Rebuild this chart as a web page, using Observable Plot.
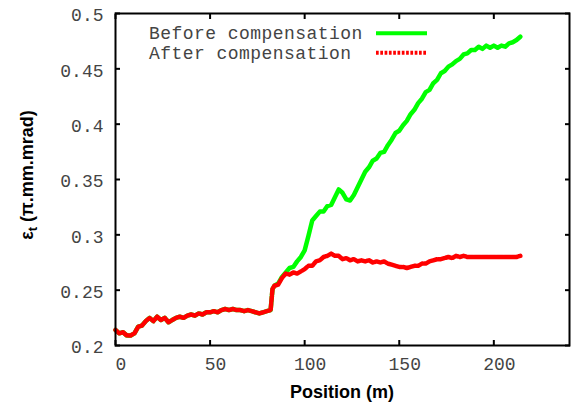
<!DOCTYPE html>
<html>
<head>
<meta charset="utf-8">
<script src="https://cdn.jsdelivr.net/npm/d3@7"></script>
<script src="https://cdn.jsdelivr.net/npm/@observablehq/plot@0.6"></script>
<style>
  html, body { margin: 0; padding: 0; background: #fff; }
  #chart svg { display: block; }
</style>
</head>
<body>
<div id="chart"></div>
<script>
// ---- Data ----
const positions = [
  0, 2, 4, 6, 8, 10, 12, 14, 16, 18, 20, 22, 24, 26, 28, 30, 32, 34, 36, 38,
  40, 42, 44, 46, 48, 50, 52, 54, 56, 58, 60, 62, 64, 66, 68, 70, 72, 74, 76, 78,
  80, 82, 83,
  84, 86, 88, 90, 92, 94, 96, 98, 100, 102, 104, 106, 108, 110, 112, 114, 116, 118,
  120, 122, 124, 126, 128, 130, 132, 134, 136, 138, 140, 142, 144, 146, 148, 150,
  152, 154, 156, 158, 160, 162, 164, 166, 168, 170, 172, 174, 176, 178, 180, 182,
  184, 186, 188, 190, 192, 194, 196, 198, 200, 202, 204, 206, 208, 210, 212, 214
];

// Shared part (0 .. 83 m): both curves coincide
const sharedEmittance = [
  0.214, 0.211, 0.212, 0.209, 0.209, 0.211, 0.217, 0.218, 0.222, 0.225,
  0.222, 0.226, 0.223, 0.225, 0.221, 0.223, 0.225, 0.226, 0.225, 0.227,
  0.228, 0.227, 0.229, 0.228, 0.230, 0.230, 0.231, 0.230, 0.232, 0.233,
  0.232, 0.233, 0.232, 0.232, 0.231, 0.232, 0.231, 0.230, 0.229, 0.230,
  0.231, 0.232, 0.251
];

// 84 .. 214 m
const beforeTail = [
  0.254, 0.256, 0.262, 0.266, 0.270, 0.271, 0.276, 0.280, 0.286, 0.299,
  0.313, 0.317, 0.321, 0.321, 0.326, 0.327, 0.334, 0.341, 0.338, 0.332,
  0.331, 0.336, 0.343, 0.350, 0.357, 0.361, 0.367, 0.369, 0.374, 0.375,
  0.381, 0.386, 0.392, 0.394, 0.399, 0.403, 0.409, 0.413, 0.419, 0.423,
  0.429, 0.431, 0.437, 0.440, 0.446, 0.448, 0.452, 0.454, 0.457, 0.459,
  0.463, 0.464, 0.467, 0.467, 0.470, 0.468, 0.471, 0.469, 0.471, 0.469,
  0.471, 0.470, 0.473, 0.474, 0.476, 0.479
];

const afterTail = [
  0.254, 0.255, 0.261, 0.265, 0.264, 0.266, 0.265, 0.267, 0.269, 0.272,
  0.272, 0.276, 0.277, 0.280, 0.281, 0.283, 0.281, 0.281, 0.278, 0.279,
  0.277, 0.278, 0.276, 0.277, 0.276, 0.277, 0.275, 0.276, 0.275, 0.276,
  0.274, 0.273, 0.272, 0.271, 0.271, 0.270, 0.271, 0.272, 0.272, 0.274,
  0.274, 0.276, 0.277, 0.278, 0.278, 0.279, 0.280, 0.279, 0.281, 0.280,
  0.281, 0.280, 0.280, 0.280, 0.280, 0.280, 0.280, 0.280, 0.280, 0.280,
  0.280, 0.280, 0.280, 0.280, 0.280, 0.281
];

const seriesNames = ["Before compensation", "After compensation"];
const seriesColors = ["#00ff00", "#ff0000"];
const xTicks = [0, 50, 100, 150, 200];
const xTickLabels = ["0", "50", "100", "150", "200"];
const yTicks = [0.2, 0.25, 0.3, 0.35, 0.4, 0.45, 0.5];
const yTickLabels = ["0.2", "0.25", "0.3", "0.35", "0.4", "0.45", "0.5"];
const xTitle = "Position (m)";
const yTitleSymbol = "ε";
const yTitleSub = "t";
const yTitleUnit = " (π.mm.mrad)";

// ---- Build tables ----
const beforeValues = sharedEmittance.concat(beforeTail);
const afterValues = sharedEmittance.concat(afterTail);
const beforeRows = positions.map((p, i) => ({position: p, value: beforeValues[i]}));
const afterRows = positions.map((p, i) => ({position: p, value: afterValues[i]}));

const mono = "'Liberation Mono', 'DejaVu Sans Mono', monospace";
const sans = "'Liberation Sans', Arial, sans-serif";
const labelColor = "#444";

const plot = Plot.plot({
  width: 571,
  height: 403,
  marginLeft: 115,
  marginRight: 2,
  marginTop: 13,
  marginBottom: 58,
  x: {domain: [0, 240]},
  y: {domain: [0.2, 0.5]},
  style: {fontFamily: mono, fontSize: "18px", background: "#fff", color: "#000"},
  marks: [
    Plot.line(beforeRows, {x: "position", y: "value", stroke: seriesColors[0], strokeWidth: 4.5, strokeLinejoin: "round"}),
    Plot.line(afterRows, {x: "position", y: "value", stroke: seriesColors[1], strokeWidth: 4.5, strokeDasharray: "6,1.5"}),
    // inward ticks on all four sides
    Plot.axisX({ticks: xTicks, anchor: "bottom", tickSize: 5, dy: -5, fill: "none", stroke: "#000", strokeWidth: 2, label: null}),
    Plot.axisX({ticks: xTicks, anchor: "top", tickSize: 5, dy: 5, fill: "none", stroke: "#000", strokeWidth: 2, label: null}),
    Plot.axisY({ticks: yTicks, anchor: "left", tickSize: 5, dx: 5, fill: "none", stroke: "#000", strokeWidth: 2, label: null}),
    Plot.axisY({ticks: yTicks, anchor: "right", tickSize: 5, dx: -5, fill: "none", stroke: "#000", strokeWidth: 2, label: null}),
    // tick labels
    Plot.axisX({ticks: xTicks, anchor: "bottom", tickSize: 0, tickPadding: 12, dx: 5.5, fill: labelColor, label: null,
      tickFormat: d => xTickLabels[xTicks.indexOf(d)]}),
    Plot.axisY({ticks: yTicks, anchor: "left", tickSize: 0, tickPadding: 12, dy: 2, fill: labelColor, label: null,
      tickFormat: d => yTickLabels[yTicks.findIndex(t => Math.abs(t - d) < 1e-9)]}),
    Plot.frame({stroke: "#000", strokeWidth: 2})
  ]
});

document.getElementById("chart").appendChild(plot);

// ---- Titles and legend (gnuplot style) ----
const svg = d3.select(plot);

svg.append("text")
  .attr("x", 342)
  .attr("y", 398)
  .attr("text-anchor", "middle")
  .attr("font-family", sans)
  .attr("font-weight", "bold")
  .attr("font-size", 18)
  .attr("fill", "#000")
  .text(xTitle);

const yt = svg.append("text")
  .attr("transform", "translate(33,175) rotate(-90)")
  .attr("text-anchor", "middle")
  .attr("font-family", sans)
  .attr("font-weight", "bold")
  .attr("font-size", 18)
  .attr("fill", "#000");
yt.append("tspan").text(yTitleSymbol);
yt.append("tspan").attr("dy", 4).attr("font-size", 13).text(yTitleSub);
yt.append("tspan").attr("dy", -4).text(yTitleUnit);

const legend = svg.append("g");
seriesNames.forEach((name, i) => {
  const cy = 33.3 + i * 19.5;
  legend.append("text")
    .attr("x", 149)
    .attr("y", cy + 6)
    .attr("text-anchor", "start")
    .attr("font-family", mono)
    .attr("font-size", 18)
    .attr("letter-spacing", 0.45)
    .attr("fill", labelColor)
    .text(name);
  legend.append("line")
    .attr("x1", 376).attr("x2", 427)
    .attr("y1", cy).attr("y2", cy)
    .attr("stroke", seriesColors[i])
    .attr("stroke-width", 4)
    .attr("stroke-dasharray", i === 1 ? "2.7,1.6" : null);
});
</script>
</body>
</html>
